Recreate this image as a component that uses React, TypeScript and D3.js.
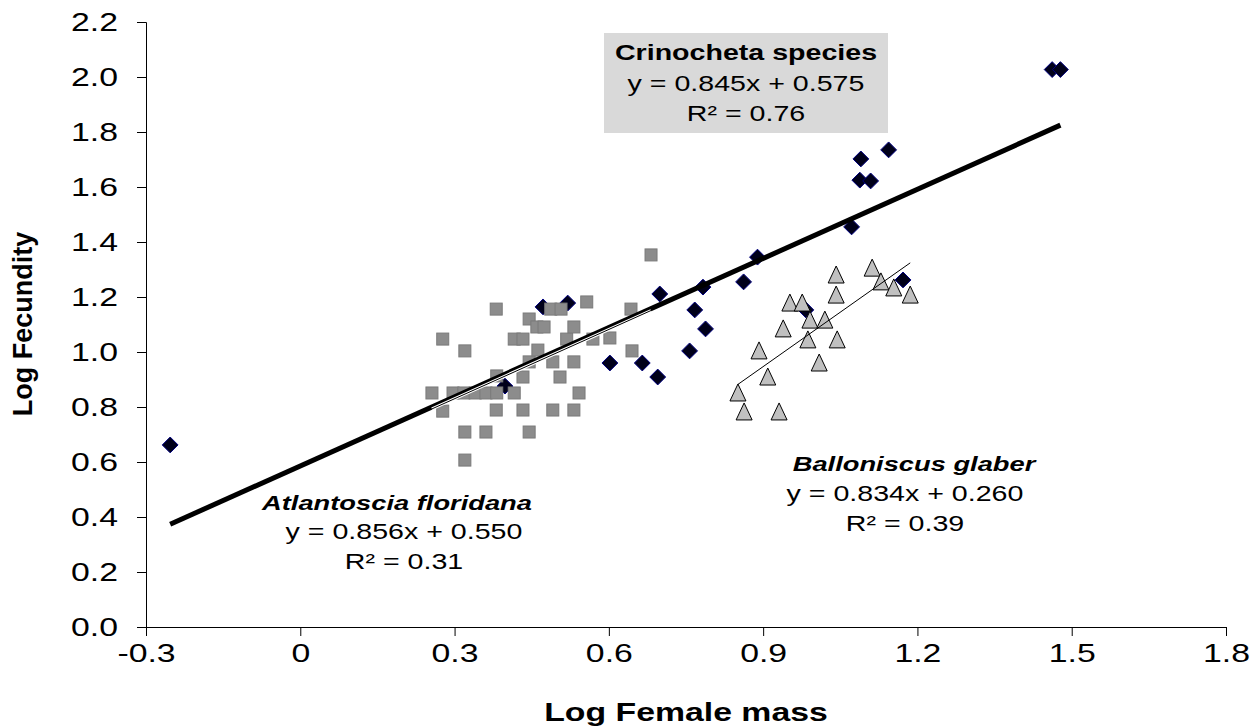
import { useRef, useEffect } from 'react';
import * as d3 from 'd3';

// Crinocheta species (diamonds)
const crinoX = [-0.253, 0.398, 0.472, 0.52, 0.602, 0.665, 0.695, 0.699, 0.757, 0.767, 0.783, 0.788, 0.862, 0.889, 0.983, 1.072, 1.088, 1.09, 1.109, 1.144, 1.172, 1.462, 1.478];
const crinoY = [0.662, 0.876, 1.164, 1.178, 0.96, 0.96, 0.909, 1.211, 1.004, 1.153, 1.236, 1.084, 1.255, 1.345, 1.153, 1.455, 1.625, 1.702, 1.622, 1.735, 1.262, 2.027, 2.027];

// Atlantoscia floridana (squares)
const atlX = [0.256, 0.277, 0.277, 0.297, 0.318, 0.32, 0.32, 0.32, 0.34, 0.361, 0.361, 0.381, 0.382, 0.382, 0.381, 0.416, 0.433, 0.416, 0.433, 0.433, 0.445, 0.445, 0.445, 0.46, 0.474, 0.462, 0.487, 0.507, 0.491, 0.491, 0.505, 0.518, 0.532, 0.532, 0.532, 0.542, 0.557, 0.569, 0.602, 0.643, 0.645, 0.682];
const atlY = [0.851, 1.047, 0.785, 0.851, 0.851, 1.004, 0.709, 0.607, 0.851, 0.851, 0.709, 1.156, 0.913, 0.851, 0.789, 1.047, 1.047, 0.851, 0.909, 0.789, 1.12, 0.964, 0.709, 1.091, 1.091, 1.007, 1.156, 1.156, 0.964, 0.789, 0.909, 1.047, 1.091, 0.964, 0.789, 0.851, 1.182, 1.047, 1.051, 1.156, 1.004, 1.353];

// Balloniscus glaber (triangles)
const balX = [1.112, 1.042, 1.129, 1.042, 1.154, 1.186, 0.952, 0.976, 0.991, 1.02, 0.939, 0.987, 1.044, 0.892, 1.009, 0.909, 0.851, 0.863, 0.931];
const balY = [1.305, 1.28, 1.255, 1.207, 1.233, 1.207, 1.178, 1.178, 1.116, 1.116, 1.084, 1.044, 1.044, 1.004, 0.96, 0.909, 0.851, 0.782, 0.782];

const xTicks = [-0.3, 0, 0.3, 0.6, 0.9, 1.2, 1.5, 1.8];
const yTicks = [0, 0.2, 0.4, 0.6, 0.8, 1.0, 1.2, 1.4, 1.6, 1.8, 2.0, 2.2];

const W = 1259;
const H = 726;
const FONT = '"Liberation Sans", Arial, sans-serif';
const SX = 1.3; // text in the original is stretched horizontally

function fit(xs: number[], ys: number[]) {
  const mx = d3.mean(xs) as number;
  const my = d3.mean(ys) as number;
  let sxy = 0;
  let sxx = 0;
  xs.forEach((x, i) => {
    sxy += (x - mx) * (ys[i] - my);
    sxx += (x - mx) * (x - mx);
  });
  const slope = sxy / sxx;
  const x0 = d3.min(xs) as number;
  const x1 = d3.max(xs) as number;
  return { x0, x1, y0: my + slope * (x0 - mx), y1: my + slope * (x1 - mx) };
}

function Label({ x, y, size = 22, bold = false, italic = false, children }: { x: number; y: number; size?: number; bold?: boolean; italic?: boolean; children: string }) {
  return (
    <text
      transform={`translate(${x},${y}) scale(${SX},1)`}
      textAnchor="middle"
      fontSize={size}
      fontWeight={bold ? 'bold' : 'normal'}
      fontStyle={italic ? 'italic' : 'normal'}
    >
      {children}
    </text>
  );
}

export default function App() {
  const gRef = useRef<SVGGElement>(null);

  useEffect(() => {
    if (!gRef.current) return;
    const svg = d3.select(gRef.current);
    svg.selectAll('*').remove();

    const x = d3.scaleLinear().domain([-0.3, 1.8]).range([146, 1226]);
    const y = d3.scaleLinear().domain([0, 2.2]).range([627, 22]);

    // axes
    const yAxis = svg
      .append('g')
      .attr('transform', 'translate(146,0)')
      .call(d3.axisLeft(y).tickValues(yTicks).tickFormat((d) => d3.format('.1f')(d as number)).tickSizeOuter(0).tickSize(9).tickPadding(19));
    yAxis.select('.domain').attr('stroke', '#000');
    yAxis.selectAll('line').attr('stroke', '#000');
    yAxis
      .selectAll('text')
      .attr('font-family', FONT)
      .attr('font-size', 26)
      .attr('fill', '#000')
      .attr('x', -28 / SX)
      .attr('transform', `scale(${SX},1)`);

    const xAxis = svg
      .append('g')
      .attr('transform', 'translate(0,627)')
      .call(
        d3
          .axisBottom(x)
          .tickValues(xTicks)
          .tickFormat((d) => (d === 0 ? '0' : d3.format('.1f')(d as number).replace('−', '-')))
          .tickSizeOuter(0)
          .tickSize(9)
          .tickPadding(8)
      );
    xAxis.select('.domain').attr('stroke', '#000');
    xAxis.selectAll('line').attr('stroke', '#000');
    xAxis
      .selectAll('text')
      .attr('font-family', FONT)
      .attr('font-size', 26)
      .attr('fill', '#000')
      .attr('transform', `scale(${SX},1)`);

    // diamonds
    svg
      .append('g')
      .selectAll('path')
      .data(crinoX.map((v, i) => [v, crinoY[i]]))
      .join('path')
      .attr('d', d3.symbol(d3.symbolDiamond2, 160)())
      .attr('transform', (d) => `translate(${x(d[0])},${y(d[1])})`)
      .attr('fill', '#00001a')
      .attr('stroke', '#000080')
      .attr('stroke-width', 1);

    // squares
    svg
      .append('g')
      .selectAll('rect')
      .data(atlX.map((v, i) => [v, atlY[i]]))
      .join('rect')
      .attr('x', (d) => x(d[0]) - 6)
      .attr('y', (d) => y(d[1]) - 6)
      .attr('width', 12)
      .attr('height', 12)
      .attr('fill', '#8c8c8c')
      .attr('stroke', '#7a7a7a')
      .attr('stroke-width', 1);

    // triangles
    svg
      .append('g')
      .selectAll('path')
      .data(balX.map((v, i) => [v, balY[i]]))
      .join('path')
      .attr('d', 'M0,-9L8,8L-8,8Z')
      .attr('transform', (d) => `translate(${x(d[0])},${y(d[1])})`)
      .attr('fill', '#c0c0c0')
      .attr('stroke', '#000')
      .attr('stroke-width', 1);

    // trendlines
    const drawFit = (xs: number[], ys: number[], width: number, halo: boolean) => {
      const f = fit(xs, ys);
      if (halo) {
        svg.append('line').attr('x1', x(f.x0)).attr('y1', y(f.y0)).attr('x2', x(f.x1)).attr('y2', y(f.y1)).attr('stroke', '#fff').attr('stroke-width', width + 2);
      }
      svg.append('line').attr('x1', x(f.x0)).attr('y1', y(f.y0)).attr('x2', x(f.x1)).attr('y2', y(f.y1)).attr('stroke', '#000').attr('stroke-width', width);
    };
    drawFit(balX, balY, 1, false);
    drawFit(crinoX, crinoY, 5, false);
    drawFit(atlX, atlY, 1, true);
  }, []);

  return (
    <svg width={W} height={H} style={{ position: 'absolute', left: 0, top: 0, background: '#fff' }} fontFamily={FONT}>
      <rect x={604} y={33} width={284} height={100} fill="#d9d9d9" />
      <g ref={gRef} />
      <g>
        <text transform="translate(25,324) rotate(-90)" textAnchor="middle" fontSize={27} fontWeight="bold" dominantBaseline="middle">
          Log Fecundity
        </text>
        <Label x={686} y={721} size={26} bold>Log Female mass</Label>
        <Label x={746} y={60} bold>Crinocheta species</Label>
        <Label x={746} y={91}>y = 0.845x + 0.575</Label>
        <Label x={746} y={121}>R² = 0.76</Label>
        <Label x={397} y={510} size={21} bold italic>Atlantoscia floridana</Label>
        <Label x={404} y={539}>y = 0.856x + 0.550</Label>
        <Label x={404} y={569}>R² = 0.31</Label>
        <Label x={914} y={471} size={21} bold italic>Balloniscus glaber</Label>
        <Label x={905} y={501}>y = 0.834x + 0.260</Label>
        <Label x={905} y={531}>R² = 0.39</Label>
      </g>
    </svg>
  );
}
